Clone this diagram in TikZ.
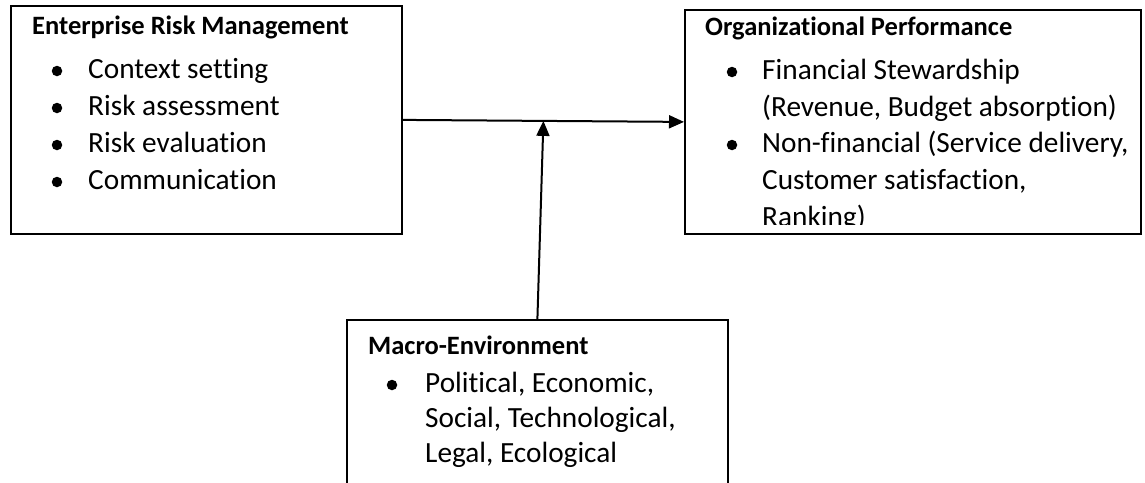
\documentclass[tikz,border=0pt]{standalone}
\usepackage{fontspec}
\setmainfont{Carlito}[Ligatures={NoCommon}]
\usetikzlibrary{arrows.meta,calc}
\begin{document}
\begin{tikzpicture}[x=1pt,y=-1pt,
  box/.style={draw, line width=1.8pt, rectangle, anchor=north west, inner sep=0pt},
  head/.style={anchor=base west, inner sep=0pt, font=\fontsize{26.5}{30}\selectfont\bfseries},
  entry/.style={anchor=base west, inner sep=0pt, font=\fontsize{29.3}{37}\selectfont},
  dot/.style={circle, fill, inner sep=0pt, minimum size=10.5pt},
  arr/.style={line width=2pt, -{Triangle[length=15pt,width=13pt]}}]
\useasboundingbox (0,0) rectangle (1145,482);

% the three frames
\node[box, minimum width=391pt, minimum height=228pt] (erm) at (10,5) {};
\node[box, minimum width=456pt, minimum height=224pt] (op) at (684,9) {};
\node[box, minimum width=381pt, minimum height=250pt] (me) at (346,319) {};

% Enterprise Risk Management
\node[head] (ermT) at (32,34) {Enterprise Risk Management};
\node[dot] (ermD1) at (57,71) {};
\node[entry] (ermL1) at (88,78) {Context setting};
\node[dot] (ermD2) at (57,108) {};
\node[entry] (ermL2) at (88,115) {Risk assessment};
\node[dot] (ermD3) at (57,145) {};
\node[entry] (ermL3) at (88,152) {Risk evaluation};
\node[dot] (ermD4) at (57,182) {};
\node[entry] (ermL4) at (88,189) {Communication};

% Organizational Performance (text cut off at the inner margin)
\begin{scope}
\clip (684,9) rectangle (1140,224);
\node[head] (opT) at (705,35) {Organizational Performance};
\node[dot] (opD1) at (732,72) {};
\node[entry] (opL1) at (762,79) {Financial Stewardship};
\node[entry] (opL2) at (762,116) {(Revenue, Budget absorption)};
\node[dot] (opD2) at (732,145) {};
\node[entry] (opL3) at (762,152) {Non-financial (Service delivery,};
\node[entry] (opL4) at (762,189) {Customer satisfaction,};
\node[entry] (opL5) at (762,226) {Ranking)};
\end{scope}

% Macro-Environment
\node[head] (meT) at (368,354) {Macro-Environment};
\node[dot] (meD1) at (392,385) {};
\node[entry] (meL1) at (425,392) {Political, Economic,};
\node[entry] (meL2) at (425,427) {Social, Technological,};
\node[entry] (meL3) at (425,462) {Legal, Ecological};

% connectors
\coordinate (j) at ($(erm.east)!0.5!(op.west)$);
\draw[arr] (erm.east) -- (op.west);
\draw[arr] (me.north) -- (j);
\end{tikzpicture}
\end{document}
